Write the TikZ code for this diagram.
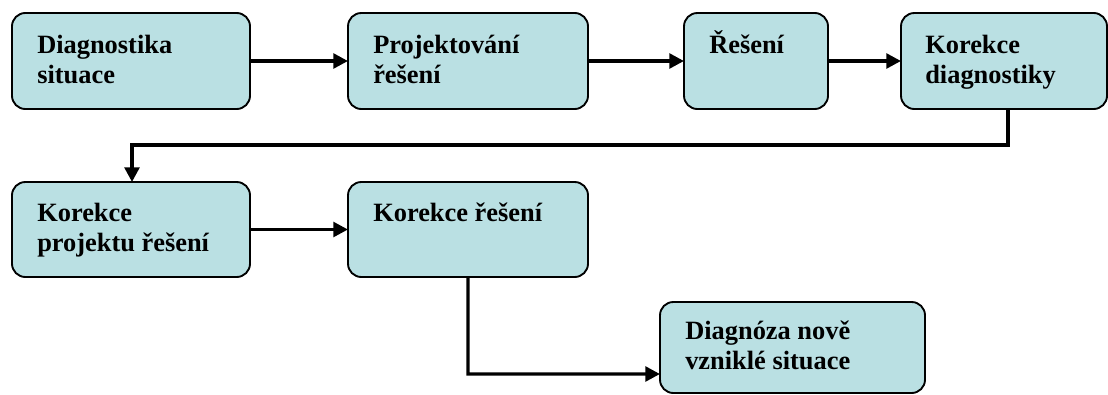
\documentclass[tikz,border=0pt]{standalone}
\usepackage{fontspec}
\setmainfont{Liberation Serif}
\usetikzlibrary{arrows.meta}
\definecolor{tyrkys}{RGB}{186,224,227}

\begin{document}
\begin{tikzpicture}[x=0.75bp,y=-0.75bp,
    krok/.style={draw,rectangle,rounded corners=10bp,fill=tyrkys,line width=1.4bp,
      anchor=north west,inner sep=0pt,outer sep=0pt},
    popis/.style={anchor=base west,align=left,inner sep=0pt,
      font=\fontsize{19.8bp}{22.5bp}\selectfont\bfseries},
    spoj/.style={line width=2.6bp,-{Triangle[length=11bp,width=11bp]}}]
  \useasboundingbox (0,0) rectangle (1108,394);
  % boxes
  \node (DiagSit) at (12,13) [krok,minimum width=178.5bp,minimum height=72bp] {};
  \node (ProjRes) at (348,13) [krok,minimum width=180bp,minimum height=72bp] {};
  \node (Res) at (684,13) [krok,minimum width=108bp,minimum height=72bp] {};
  \node (KorDiag) at (901,13) [krok,minimum width=154.5bp,minimum height=72bp] {};
  \node (KorProj) at (12,182) [krok,minimum width=178.5bp,minimum height=71.25bp] {};
  \node (KorRes) at (348,182) [krok,minimum width=180bp,minimum height=71.25bp] {};
  \node (DiagNova) at (660,302) [krok,minimum width=198.75bp,minimum height=68.25bp] {};
  % texts (base = last line)
  \node (tDiagSit) at (37,83) [popis] {Diagnostika\\situace};
  \node (tProjRes) at (373,83) [popis] {Projektování\\řešení};
  \node (tRes) at (709,53) [popis] {Řešení};
  \node (tKorDiag) at (925,83) [popis] {Korekce\\diagnostiky};
  \node (tKorProj) at (37,251) [popis] {Korekce\\projektu řešení};
  \node (tKorRes) at (373,221) [popis] {Korekce řešení};
  \node (tDiagNova) at (685,369) [popis] {Diagnóza nově\\vzniklé situace};
  % bends
  \coordinate (zlom1) at (1008,145);
  \coordinate (zlom2) at (132,145);
  \coordinate (zlom3) at (468,374);
  % connectors
  \draw [spoj] (DiagSit.east) -- (ProjRes.west);
  \draw [spoj] (ProjRes.east) -- (Res.west);
  \draw [spoj] (Res.east) -- (KorDiag.west);
  \draw [spoj] (KorDiag.south -| zlom1) -- (zlom1) -- (zlom2) -- (zlom2 |- KorProj.north);
  \draw [spoj] (KorProj.east) -- (KorRes.west);
  \draw [spoj] (KorRes.south) -- (zlom3) -- (zlom3 -| DiagNova.west);
\end{tikzpicture}
\end{document}
